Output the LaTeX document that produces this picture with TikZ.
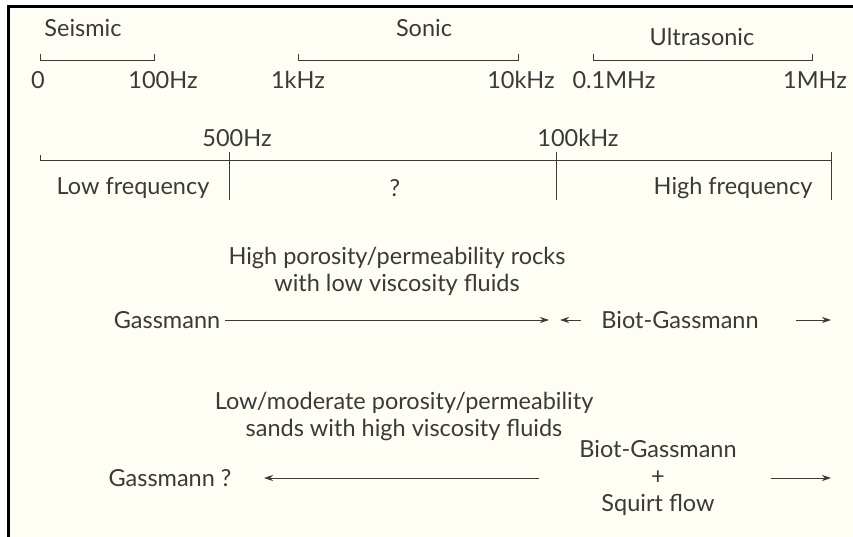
\documentclass[tikz,border=0pt]{standalone}
\usepackage{fontspec}
\setmainfont{Lato}
\usetikzlibrary{arrows.meta,positioning}

\definecolor{paper}{HTML}{FFFEF4}
\definecolor{ink}{HTML}{3A3A3A}

\begin{document}
\begin{tikzpicture}[x=1pt,y=-1pt,>={Stealth[length=9pt,width=6pt]},
  every node/.style={font=\fontsize{23.5}{27}\selectfont,text=ink,inner sep=2pt},
  axis/.style={draw=ink,line width=0.9pt},
  flow/.style={draw=ink,line width=1pt,->}]
\useasboundingbox (0,0) rectangle (853,537);
\fill[paper] (8,7) rectangle (853,537);
\draw[line width=3pt] (8,537) -- (8,6.5) -- (853,6.5);

% frequency bands
\node (seis) at (83,28)  {Seismic};
\node (son)  at (424,28) {Sonic};
\node (ult)  at (702,37) {Ultrasonic};
\draw[axis] (40,54)  -- (40,60)  -- (154,60) -- (154,54);
\draw[axis] (298,54) -- (298,60) -- (518,60) -- (518,54);
\draw[axis] (593,54) -- (593,60) -- (812,60) -- (812,54);

\node (f0)    at (38,80)  {0};
\node (f100)  at (163,80) {100Hz};
\node (f1k)   at (298,80) {1kHz};
\node (f10k)  at (521,80) {10kHz};
\node (f01M)  at (614,80) {0.1MHz};
\node (f1M)   at (815,80) {1MHz};

% frequency ranges
\draw[axis] (40,155) -- (40,160) -- (831,160);
\draw[axis] (229,152) -- (229,200);
\draw[axis] (556,152) -- (556,200);
\draw[axis] (831,152) -- (831,200);
\node (f500)  at (237,138) {500Hz};
\node (f100k) at (578,138) {100kHz};
\node (low)   at (133,188) {Low frequency};
\node (mid)   at (395,188) {?};
\node (high)  at (733,188) {High frequency};

% high porosity case
\node[align=center] (hiP) at (397,271) {High porosity/permeability rocks\\with low viscosity fluids};
\node (gas1) at (167,320) {Gassmann};
\node (bg1)  at (680,320) {Biot-Gassmann};
\coordinate (gas1E) at (549,320);
\coordinate (bg1L)  at (560,320);
\coordinate (bg1R)  at (831,320);
\draw[flow,shorten <=3pt] (gas1) -- (gas1E);
\draw[flow] ([xshift=-18pt]bg1.west) -- (bg1L);
\draw[flow] ([xshift=35pt]bg1.east) -- (bg1R);

% low porosity case
\node[align=center] (loP) at (404,416) {Low/moderate porosity/permeability\\sands with high viscosity fluids};
\node (gas2) at (170,478) {Gassmann ?};
\node[align=center] (bg2) at (658,478) {Biot-Gassmann\\+\\Squirt flow};
\coordinate (gas2W) at (264,478);
\coordinate (bg2R)  at (831,478);
\draw[flow] ([xshift=-38pt]bg2.west) -- (gas2W);
\draw[flow] ([xshift=32pt]bg2.east) -- (bg2R);
\end{tikzpicture}
\end{document}
